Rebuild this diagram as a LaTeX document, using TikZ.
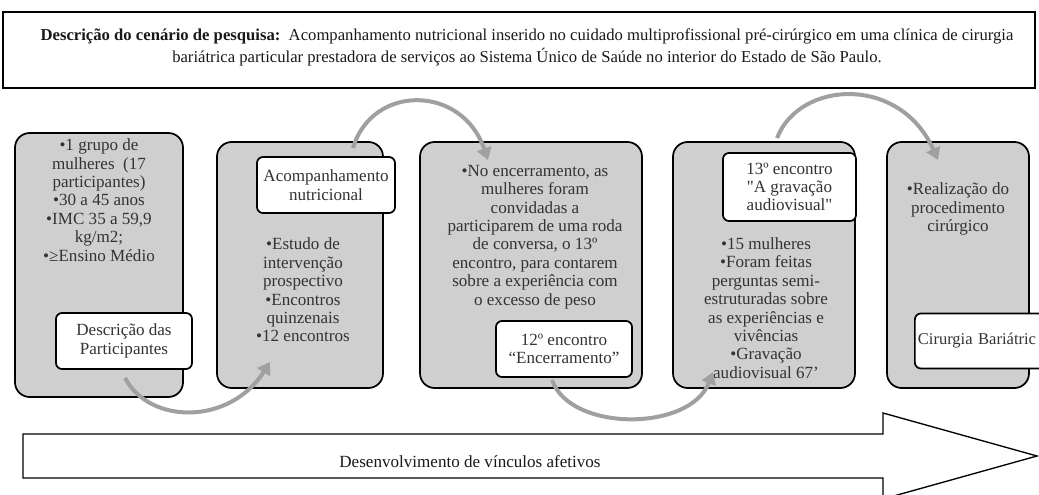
\documentclass[tikz,border=0pt]{standalone}
\usepackage{fontspec}
\setmainfont{Liberation Serif}
\newfontfamily\rawserif{Liberation Serif}
\usetikzlibrary{arrows.meta}
\definecolor{panelgray}{HTML}{CFCFCF}
\definecolor{arrowgray}{HTML}{A0A0A0}
\definecolor{txt}{HTML}{333333}
\newcommand\paneltext{\fontsize{12.8}{13.8}\selectfont}
\tikzset{
 panel/.style={draw=black, line width=1.3pt, fill=panelgray, rounded corners=11pt, inner sep=0pt},
 tag/.style={draw=black, line width=1.3pt, fill=white, rounded corners=4.5pt, inner sep=0pt, align=center, text=txt, font=\paneltext},
 ptext/.style={align=center, text=txt, font=\paneltext, inner sep=0pt},
 flow/.style={draw=arrowgray, line width=3pt, -{Triangle[width=11pt,length=9pt]}},
 bigarrow/.style={draw=black, line width=1pt, fill=white},
}
\begin{document}
\begin{tikzpicture}[x=0.75pt,y=-0.75pt]
\useasboundingbox (0,0) rectangle (1039,495);
\clip (0,0) rectangle (1039,495);
% header box
\node[draw=black, line width=1.1pt, minimum width=774pt, minimum height=57pt, inner sep=0pt] (head) at (519,50) {};
\node[align=center, text=black!90, font=\fontsize{12.5}{16.5}\selectfont, inner sep=0pt] (headtext) at (527,47)
 {\textbf{Descrição do cenário de pesquisa:}\ \ Acompanhamento nutricional inserido no cuidado multiprofissional pré-cirúrgico em uma clínica de cirurgia\\
 bariátrica particular prestadora de serviços ao Sistema Único de Saúde no interior do Estado de São Paulo.};
% big arrow
\draw[bigarrow] (23,434) -- (883,434) -- (883,413) -- (1037,456) -- (883,499) -- (883,478) -- (23,478) -- cycle;
\node[font=\fontsize{12.8}{14}\selectfont, text=black!90, inner sep=0pt] (vinc) at (470,462) {Desenvolvimento de vínculos afetivos};
% panels
\node[panel, minimum width=126pt, minimum height=198pt] (p1) at (99,265) {};
\node[panel, minimum width=124.5pt, minimum height=184.5pt] (p2) at (300,265) {};
\node[panel, minimum width=166.5pt, minimum height=184.5pt] (p3) at (531,265) {};
\node[panel, minimum width=136.5pt, minimum height=184.5pt] (p4) at (764,265) {};
\node[panel, minimum width=106.5pt, minimum height=184.5pt] (p5) at (958,265) {};
% panel texts
\node[ptext] (t1) at (99,200) {•1 grupo de\\ mulheres\ \ (17\\ participantes)\\ •30 a 45 anos\\ •IMC 35 a 59,9\\ kg/m2;\\ •≥Ensino Médio};
\node[ptext] (t2) at (303,290) {•Estudo de\\ intervenção\\ prospectivo\\ •Encontros\\ quinzenais\\ •12 encontros};
\node[ptext] (t3) at (535,237) {•No encerramento, as\\ mulheres foram\\ convidadas a\\ participarem de uma roda\\ de conversa, o 13º\\ encontro, para contarem\\ sobre a experiência com\\ o excesso de peso};
\node[ptext] (t4) at (766,308) {•15 mulheres\\ •Foram feitas\\ perguntas semi-\\ estruturadas sobre\\ as experiências e\\ vivências\\ •Gravação\\ audiovisual 67’};
\node[ptext] (t5) at (958,209) {•Realização do\\ procedimento\\ cirúrgico};
% labels
\node[tag, minimum width=102pt, minimum height=42pt] (l1) at (124,341) {Descrição das\\ Participantes};
\node[tag, minimum width=103.5pt, minimum height=42pt] (l2) at (326,185) {Acompanhamento\\ nutricional};
\node[tag, minimum width=102pt, minimum height=42pt] (l3) at (564,349) {12º encontro\\ “Encerramento”};
\node[tag, minimum width=99.75pt, minimum height=51pt, font=\rawserif\paneltext] (l4) at (789.5,187) {13º encontro\\ "A gravação\\ audiovisual"};
\node[tag, anchor=west, minimum height=41.25pt, text width=96pt, inner xsep=2.25pt, align=left, font=\fontsize{12.4}{13.8}\selectfont] (l5) at (914,341) {Cirurgia Bariátric};
% curved arrows
\coordinate (a1s) at (125,378); \coordinate (a1e) at (270,362);
\coordinate (a2s) at (353,148); \coordinate (a2e) at (488,160);
\coordinate (a3s) at (552,380); \coordinate (a3e) at (713,372);
\coordinate (a4s) at (777,138); \coordinate (a4e) at (938,160);
\draw[flow] (a1s) .. controls (150,425) and (230,425) .. (a1e);
\draw[flow] (a2s) .. controls (372,84) and (462,84) .. (a2e);
\draw[flow] (a3s) .. controls (570,432) and (690,432) .. (a3e);
\draw[flow] (a4s) .. controls (800,80) and (900,75) .. (a4e);
\end{tikzpicture}
\end{document}
